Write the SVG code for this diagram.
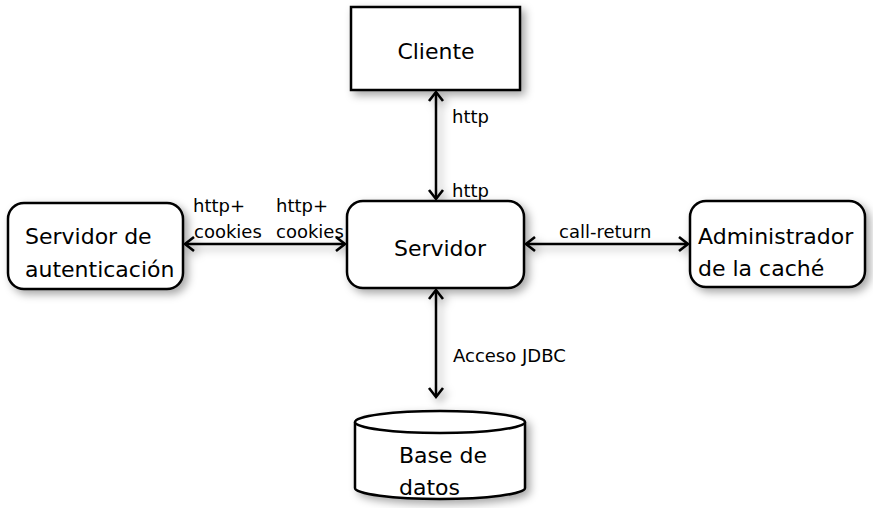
<svg xmlns="http://www.w3.org/2000/svg" width="873" height="508" viewBox="0 0 873 508">
<defs>
<filter id="sh" x="-20%" y="-20%" width="150%" height="160%">
<feDropShadow dx="4" dy="4" stdDeviation="4" flood-color="#000" flood-opacity="0.35"/>
</filter>
<marker id="ah" markerUnits="userSpaceOnUse" markerWidth="20" markerHeight="20" viewBox="-12 -10 14 20" refX="0" refY="0" orient="auto-start-reverse">
<path d="M-9,-7 L0,0 L-9,7" fill="none" stroke="#000" stroke-width="2.6" stroke-linejoin="miter"/>
</marker>
</defs>
<style>
.box{fill:#fff;stroke:#000;stroke-width:2.5;filter:url(#sh)}
.lbl{font-family:"DejaVu Sans",sans-serif;font-size:22px;fill:#000}
.el{font-family:"DejaVu Sans",sans-serif;font-size:18px;fill:#000}
.con{stroke:#000;stroke-width:2.5;fill:none;marker-start:url(#ah);marker-end:url(#ah)}
</style>
<rect width="873" height="508" fill="#fff"/>
<g id="connectors" filter="url(#sh)">
<line class="con" x1="436" y1="92" x2="436" y2="199"/>
<line class="con" x1="436" y1="290" x2="436" y2="397"/>
<line class="con" x1="185" y1="244" x2="345" y2="244"/>
<line class="con" x1="526" y1="244" x2="688" y2="244"/>
</g>
<g id="edge-labels">
<text class="el" x="452" y="123">http</text>
<text class="el" x="452" y="197">http</text>
<text class="el" x="193" y="212">http+</text>
<text class="el" x="194" y="238">cookies</text>
<text class="el" x="276" y="212">http+</text>
<text class="el" x="276" y="238">cookies</text>
<text class="el" x="559" y="238">call-return</text>
<text class="el" x="453" y="362">Acceso JDBC</text>
</g>
<g id="cliente">
<rect class="box" x="351" y="7" width="169" height="83"/>
<text class="lbl" x="436" y="59" text-anchor="middle">Cliente</text>
</g>
<g id="servidor">
<rect class="box" x="347" y="201" width="177" height="87" rx="16"/>
<text class="lbl" x="440" y="256" text-anchor="middle">Servidor</text>
</g>
<g id="auth">
<rect class="box" x="8" y="203" width="175" height="86" rx="16"/>
<text class="lbl" x="25" y="244">Servidor de</text>
<text class="lbl" x="25" y="277">autenticación</text>
</g>
<g id="cache">
<rect class="box" x="690" y="201" width="175" height="86" rx="16"/>
<text class="lbl" x="698" y="244">Administrador</text>
<text class="lbl" x="698" y="276">de la caché</text>
</g>
<g id="db">
<g filter="url(#sh)">
<path d="M355,422 L355,488 A85,11 0 0 0 525,488 L525,422" fill="#fff" stroke="#000" stroke-width="2.5"/>
<ellipse cx="440" cy="422" rx="85" ry="11" fill="#fff" stroke="#000" stroke-width="2.5"/>
</g>
<text class="lbl" x="399" y="463">Base de</text>
<text class="lbl" x="399" y="495">datos</text>
</g>
</svg>
